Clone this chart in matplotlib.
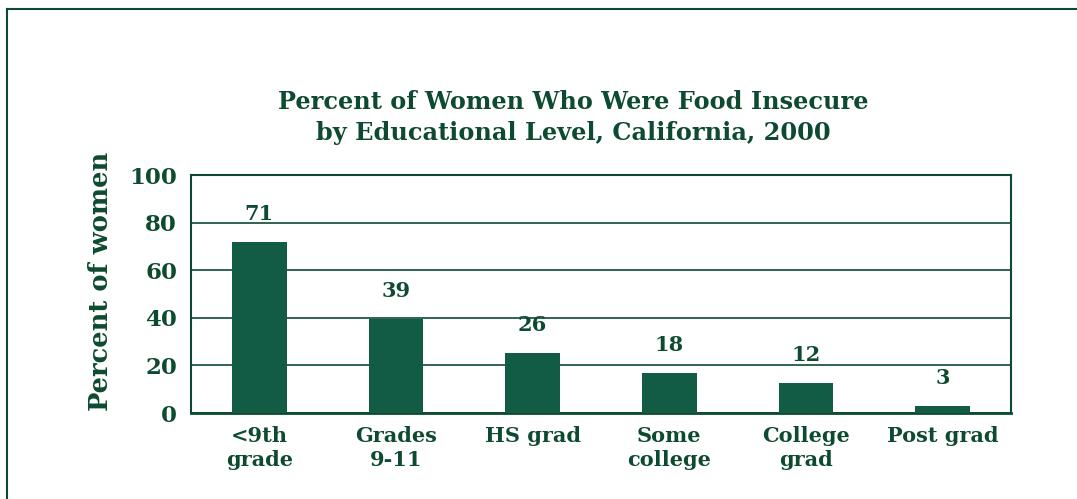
import matplotlib.pyplot as plt
from matplotlib.lines import Line2D

categories = ['<9th\ngrade', 'Grades\n9-11', 'HS grad', 'Some\ncollege', 'College\ngrad', 'Post grad']
bar_heights = [71.8, 39.5, 25.2, 16.8, 12.6, 2.9]
bar_labels = ['71', '39', '26', '18', '12', '3']

green = '#125b44'
text_green = '#0d4a30'
plt.rcParams['font.family'] = ['DejaVu Serif']

fig = plt.figure(figsize=(10.77, 4.99), dpi=100)
ax = fig.add_axes([191/1077, 1 - 413/499, 820/1077, 238/499])

x = list(range(len(categories)))
ax.bar(x, bar_heights, width=0.4, color=green, zorder=3)
for xi, h, lab in zip(x, bar_heights, bar_labels):
    ax.annotate(lab, (xi, h), xytext=(0, 20), textcoords='offset points',
                ha='center', va='center', fontsize=15, color=text_green, fontweight='bold')

ax.set_xlim(-0.5, 5.5)
ax.set_ylim(0, 100)
ax.set_yticks([0, 20, 40, 60, 80, 100])
ax.set_xticks(x)
ax.set_xticklabels(categories, fontsize=15, color=text_green, linespacing=1.25)
ax.tick_params(axis='y', length=0, labelsize=16.5, labelcolor=text_green, pad=10)
ax.tick_params(axis='x', length=0, pad=9)
for lbl in ax.get_yticklabels():
    lbl.set_fontweight('bold')
for lbl in ax.get_xticklabels():
    lbl.set_fontweight('bold')
ax.grid(axis='y', color=text_green, linewidth=1.2, zorder=0)
for s in ax.spines.values():
    s.set_color(text_green)
    s.set_linewidth(1.5)
ax.spines['bottom'].set_linewidth(2)

ax.set_ylabel('Percent of women', fontsize=18.5, color=text_green, fontweight='bold', va='center')
ax.yaxis.set_label_coords((100 - 191) / 820, (413 - 281) / 238)

fig.text(573/1077, 1 - 102/499, 'Percent of Women Who Were Food Insecure',
         ha='center', va='center', fontsize=17.3, color=text_green, fontweight='bold')
fig.text(573/1077, 1 - 133/499, 'by Educational Level, California, 2000',
         ha='center', va='center', fontsize=17.3, color=text_green, fontweight='bold')

# page frame (top and left edges)
fig.add_artist(Line2D([7/1077, 1], [1 - 9/499, 1 - 9/499], color=text_green, linewidth=1.5))
fig.add_artist(Line2D([7/1077, 7/1077], [0, 1 - 9/499], color=text_green, linewidth=1.5))

fig.savefig('out.png', dpi=100)
